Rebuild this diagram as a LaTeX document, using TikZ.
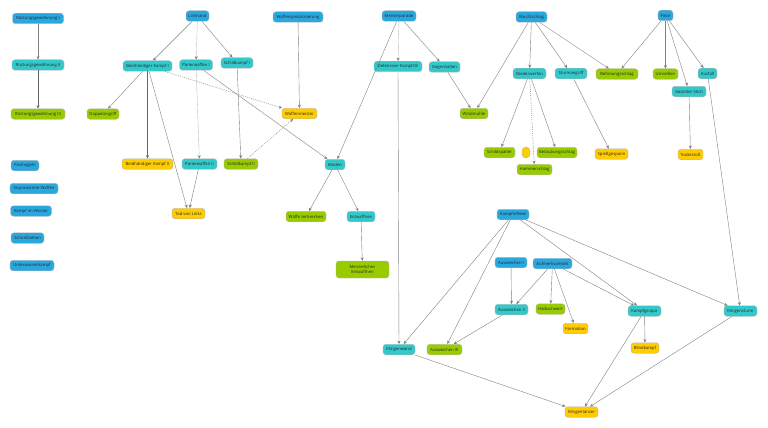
\documentclass[tikz,border=0pt]{standalone}
\usepackage{fontspec}
\setmainfont{Open Sans}
\usetikzlibrary{arrows.meta}
\definecolor{cblue}{HTML}{29A8E0}
\definecolor{cteal}{HTML}{33C9CB}
\definecolor{cgreen}{HTML}{99CC00}
\definecolor{cyellow}{HTML}{FFCC00}
\definecolor{cedge}{HTML}{808080}
\tikzset{
 box/.style={draw=black!30, line width=0.4pt, rounded corners=3pt, minimum height=10.5pt,
   inner xsep=1pt, inner ysep=0pt, font=\fontsize{4.2}{5}\selectfont, text=black!85, align=center},
 bl/.style={box, fill=cblue},
 te/.style={box, fill=cteal},
 gr/.style={box, fill=cgreen},
 ye/.style={box, fill=cyellow},
 conn/.style={draw=cedge, line width=0.4pt, -{Stealth[length=3.4pt,width=3pt]}},
 strongconn/.style={conn, line width=0.8pt, draw=black!60},
 dashconn/.style={conn, dash pattern=on 1pt off 1pt},
}
\begin{document}
\begin{tikzpicture}[x=1pt,y=-1pt]
\useasboundingbox (0,0) rectangle (768,428);
% left column
\node[bl, minimum width=51pt] (rg1) at (38,18.5) {Rüstungsgewöhnung I};
\node[te, minimum width=52pt] (rg2) at (38,65) {Rüstungsgewöhnung II};
\node[gr, minimum width=54pt] (rg3) at (38,114) {Rüstungsgewöhnung III};
\node[bl, minimum width=28pt] (fest) at (25,165.5) {Festnageln};
\node[bl, minimum width=48pt] (impro) at (34,188.5) {Improvisierte Waffen};
\node[bl, minimum width=41pt] (kiw) at (31,211) {Kampf im Wasser};
\node[bl, minimum width=33pt] (schnell) at (27.5,238) {Schnellziehen};
\node[bl, minimum width=44pt] (uwk) at (32,265.5) {Unterwasserkampf};
% Linkhand group
\node[bl, minimum width=23pt] (link) at (197.5,16) {Linkhand};
\node[te, minimum width=49pt] (bk1) at (147.5,66) {Beidhändiger Kampf I};
\node[te, minimum width=33pt] (pw1) at (196,65) {Parierwaffen I};
\node[te, minimum width=32pt] (sk1) at (237,63) {Schildkampf I};
\node[gr, minimum width=32pt] (dop) at (103,114) {Doppelangriff};
\node[ye, minimum width=51pt] (bk2) at (147.5,164) {Beidhändiger Kampf II};
\node[te, minimum width=35pt] (pw2) at (199.5,164) {Parierwaffen II};
\node[gr, minimum width=34pt] (sk2) at (241,164) {Schildkampf II};
\node[ye, minimum width=33pt] (tvl) at (188.5,213.5) {Tod von Links};
\node[bl, minimum width=50pt] (wsp) at (298,17) {Waffenspezialisierung};
\node[ye, minimum width=35pt] (wm) at (299.5,113.5) {Waffenmeister};
% Meisterparade group
\node[bl, minimum width=34pt] (mp) at (399,16) {Meisterparade};
\node[te, minimum width=48pt] (dks) at (398,66.5) {Defensiver Kampfstil};
\node[te, minimum width=31pt] (geg) at (444.5,67) {Gegenhalten};
\node[gr, minimum width=28pt] (wind) at (474,113.5) {Windmühle};
\node[te, minimum width=20pt] (binden) at (335,164.5) {Binden};
\node[gr, minimum width=40pt] (wz) at (306,216.5) {Waffe zerbrechen};
\node[te, minimum width=28pt] (entw) at (361,216.5) {Entwaffnen};
\node[gr, minimum width=53pt, minimum height=17pt] (mentw) at (362.5,269.5) {Meisterliches\\Entwaffnen};
% Wuchtschlag group
\node[bl, minimum width=31pt] (wucht) at (531.5,17) {Wuchtschlag};
\node[te, minimum width=33pt] (nied) at (529.5,73.5) {Niederwerfen};
\node[te, minimum width=32pt] (sturm) at (571,73.5) {Sturmangriff};
\node[gr, minimum width=42pt] (befr) at (617,74) {Befreiungsschlag};
\node[gr, minimum width=31pt] (schsp) at (499.5,152.5) {Schildspalter};
\node[ye, minimum width=8pt, minimum height=11pt, rounded corners=4pt] (circ) at (526,152.5) {};
\node[gr, minimum width=40pt] (betb) at (557,152.5) {Betäubungsschlag};
\node[gr, minimum width=35pt] (hamm) at (534.5,169.5) {Hammerschlag};
\node[ye, minimum width=33pt] (spiess) at (611.5,154) {Spießgespann};
% Finte group
\node[bl, minimum width=15pt] (finte) at (665.5,15.5) {Finte};
\node[gr, minimum width=25pt] (umr) at (665.5,74) {Umreißen};
\node[te, minimum width=19pt] (ausf) at (707.5,73.5) {Ausfall};
\node[te, minimum width=34pt] (gez) at (689,91.5) {Gezielter Stich};
\node[ye, minimum width=25pt] (tods) at (690.5,154.5) {Todesstoß};
% Kampfreflexe group
\node[bl, minimum width=32pt] (kr) at (513,214.5) {Kampfreflexe};
\node[bl, minimum width=32pt] (aw1) at (511,262.5) {Ausweichen I};
\node[bl, minimum width=39pt] (aufm) at (552.5,263.5) {Aufmerksamkeit};
\node[te, minimum width=33pt] (aw2) at (511.5,309.5) {Ausweichen II};
\node[gr, minimum width=29pt] (kult) at (550.5,309) {Halbschwert};
\node[ye, minimum width=25pt] (form) at (575.5,328.5) {Formation};
\node[te, minimum width=32pt] (kw) at (399,349.5) {Klingenwand};
\node[gr, minimum width=35pt] (aw3) at (444.5,349.5) {Ausweichen III};
\node[ye, minimum width=33pt] (kt) at (581.5,412) {Klingentänzer};
\node[te, minimum width=33pt] (kg) at (644.5,311) {Kampfgespür};
\node[ye, minimum width=28pt] (blind) at (645,348) {Blindkampf};
\node[te, minimum width=33pt] (ks) at (740.5,311) {Klingensturm};
% connectors
\draw[conn] (rg1) -- (rg2);
\draw[strongconn] (rg2) -- (rg3);
\draw[conn] (link) -- (bk1);
\draw[dashconn] (link) -- (pw1);
\draw[conn] (link) -- (sk1);
\draw[conn] (bk1) -- (dop);
\draw[strongconn] (bk1) -- (bk2);
\draw[conn] (bk1) -- (tvl);
\draw[dashconn] (bk1) -- (wm);
\draw[dashconn] (pw1) -- (pw2);
\draw[conn] (pw1) -- (binden);
\draw[conn] (pw2) -- (tvl);
\draw[conn] (sk1) -- (sk2);
\draw[dashconn] (sk2) -- (wm);
\draw[conn] (wsp) -- (wm);
\draw[dashconn] (mp) -- (dks);
\draw[conn] (mp) -- (geg);
\draw[conn] (mp) -- (binden);
\draw[conn] (dks) -- (kw);
\draw[conn] (geg) -- (wind);
\draw[conn] (wucht) -- (wind);
\draw[conn] (wucht) -- (nied);
\draw[conn] (wucht) -- (sturm);
\draw[conn] (wucht) -- (befr);
\draw[conn] (nied) -- (schsp);
\draw[dashconn] (nied) -- (hamm);
\draw[conn] (nied) -- (betb);
\draw[conn] (sturm) -- (spiess);
\draw[conn] (finte) -- (befr);
\draw[conn] (finte) -- (umr);
\draw[conn] (finte) -- (gez);
\draw[conn] (finte) -- (ausf);
\draw[conn] (gez) -- (tods);
\draw[conn] (ausf) -- (ks);
\draw[conn] (binden) -- (wz);
\draw[conn] (binden) -- (entw);
\draw[conn] (entw) -- (mentw);
\draw[conn] (kr) -- (kw);
\draw[conn] (kr) -- (aw3);
\draw[conn] (kr) -- (kg);
\draw[conn] (kr) -- (ks);
\draw[conn] (aw1) -- (aw2);
\draw[conn] (aufm) -- (aw2);
\draw[conn] (aufm) -- (kult);
\draw[conn] (aufm) -- (form);
\draw[conn] (aufm) -- (kg);
\draw[conn] (aw2) -- (aw3);
\draw[conn] (kg) -- (blind);
\draw[conn] (kg) -- (kt);
\draw[conn] (kw) -- (kt);
\draw[conn] (ks) -- (kt);
\end{tikzpicture}
\end{document}
